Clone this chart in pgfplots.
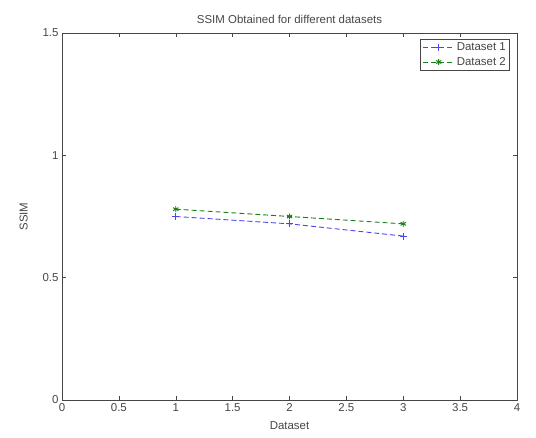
\documentclass[border=0pt]{standalone}
\usepackage{pgfplots}
\pgfplotsset{compat=1.18}
\usepackage{fontspec}
\setmainfont{Liberation Sans}
\definecolor{axgray}{RGB}{70,70,70}
\definecolor{mblue}{RGB}{70,70,245}
\definecolor{mgreen}{RGB}{20,130,20}
\begin{document}
\begin{tikzpicture}
\path[use as bounding box] (0,0) rectangle (536bp,438bp);
\begin{axis}[
  at={(62bp,38bp)}, anchor=south west,
  scale only axis, width=455bp, height=367bp,
  xmin=0, xmax=4, ymin=0, ymax=1.5,
  xtick={0,0.5,...,4}, ytick={0,0.5,1,1.5},
  xticklabels={0,0.5,1,1.5,2,2.5,3,3.5,4},
  yticklabels={0,0.5,1,1.5},
  tick align=inside, tick pos=both,
  major tick length=4bp,
  axis line style={axgray, line width=0.8pt},
  every tick/.style={axgray},
  font=\fontsize{11.5}{13}\selectfont,
  tick label style={text=axgray, font=\fontsize{11.5}{13}\selectfont},
  /pgf/number format/assume math mode=true,
  title={SSIM Obtained for different datasets},
  title style={text=axgray, yshift=0bp},
  xlabel={Dataset}, ylabel={SSIM},
  xlabel style={text=axgray, yshift=-3bp},
  ylabel style={text=axgray, yshift=8bp},
  legend style={draw=axgray, line width=0.8pt, font=\fontsize{11.5}{13}\selectfont, text=axgray,
    at={(0.985,0.985)}, anchor=north east, inner sep=2pt, row sep=1pt},
  legend cell align=left,
  legend image code/.code={
    \draw[mark repeat=2,mark phase=2,#1] plot coordinates {(0cm,0cm) (0.55cm,0cm) (1.1cm,0cm)};
  },
]
\addplot[color=mblue, dash pattern=on 5pt off 3pt, line width=0.9pt, mark=+, mark size=3.5pt, mark options={solid}] coordinates {(1,0.75) (2,0.72) (3,0.67)};
\addlegendentry{Dataset 1}
\addplot[color=mgreen, dash pattern=on 5pt off 3pt, line width=0.9pt, mark=asterisk, mark size=3pt, mark options={solid, line width=1pt}] coordinates {(1,0.78) (2,0.75) (3,0.72)};
\addlegendentry{Dataset 2}
\end{axis}
\end{tikzpicture}
\end{document}
